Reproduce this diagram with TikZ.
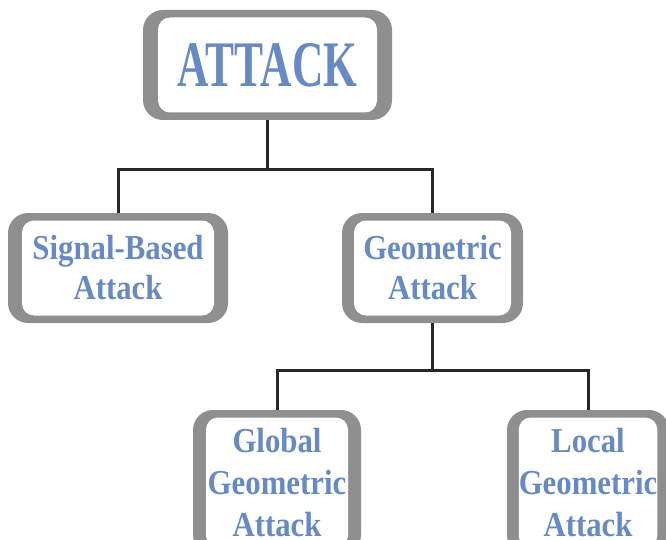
\documentclass[tikz,border=0pt]{standalone}
\usepackage{fontspec}
\setmainfont{Liberation Serif}
\newfontfamily\boxfont{Liberation Serif}[FakeStretch=0.88]
\usetikzlibrary{positioning}
\definecolor{txtblue}{RGB}{104,138,196}
\definecolor{frame}{RGB}{143,143,143}
\definecolor{linedark}{RGB}{40,40,40}
\tikzset{
  outerbox/.style={fill=frame, rounded corners=20pt, inner sep=0pt, outer sep=0pt},
  innerbox/.style={fill=white, rounded corners=12pt, inner sep=0pt, outer sep=0pt,
    align=center, text=txtblue, font=\boxfont\bfseries\fontsize{35}{40}\selectfont},
  conn/.style={draw=linedark, line width=3pt},
}
\begin{document}
\begin{tikzpicture}[x=1pt,y=-1pt]
\useasboundingbox (0,0) rectangle (666,540);
\clip (0,0) rectangle (666,540);
% top box
\node[outerbox, minimum width=249pt, minimum height=110pt] (attack) at (267.5,65) {};
\node[innerbox, minimum width=219pt, minimum height=95pt] (attackin) at (attack.center)
  {\fontsize{65}{70}\selectfont\scalebox{0.76}[1]{ATTACK}};
% second level
\node[outerbox, minimum width=220pt, minimum height=110pt] (sig) at (118,268) {};
\node[innerbox, minimum width=192pt, minimum height=95pt] (sigin) at (sig.center)
  {Signal-Based\\Attack};
\node[outerbox, minimum width=181pt, minimum height=110pt] (geo) at (432.5,268) {};
\node[innerbox, minimum width=157pt, minimum height=95pt] (geoin) at (geo.center)
  {Geometric\\Attack};
% third level
\node[outerbox, minimum width=168pt, minimum height=145pt] (glob) at (277,482.5) {};
\node[innerbox, minimum width=142pt, minimum height=130pt, font=\boxfont\bfseries\fontsize{35}{42}\selectfont] (globin) at (glob.center)
  {Global\\Geometric\\Attack};
\node[outerbox, minimum width=162pt, minimum height=145pt] (loc) at (588,482.5) {};
\node[innerbox, minimum width=136pt, minimum height=130pt, font=\boxfont\bfseries\fontsize{35}{42}\selectfont] (locin) at (loc.center)
  {Local\\Geometric\\Attack};
% junctions
\coordinate (j1) at (267.5,170);
\coordinate (j2) at (432.5,370);
\draw[conn] (attack.south) -- (j1);
\draw[conn] (sig.north) |- (j1) -| (geo.north);
\draw[conn] (geo.south) -- (j2);
\draw[conn] (glob.north) |- (j2) -| (loc.north);
\end{tikzpicture}
\end{document}
